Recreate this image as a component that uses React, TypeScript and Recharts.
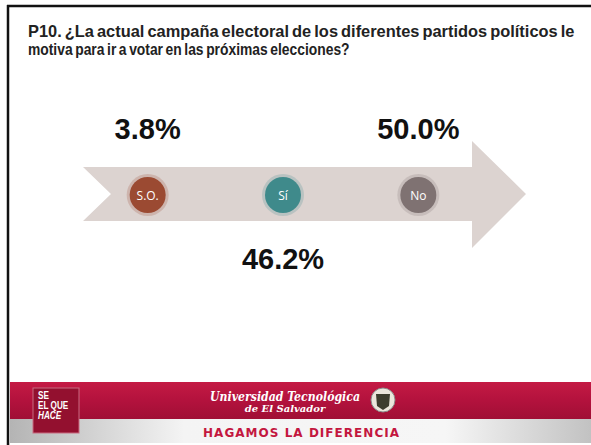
import { ScatterChart, Scatter, XAxis, YAxis, Cell } from 'recharts';

const categories = ['S.O.', 'Sí', 'No'];
const shares = [3.8, 46.2, 50.0];
const data = categories.map((name, i) => ({ name, value: shares[i] }));

const DOT_COLORS = ['#9b4a32', '#3f8a8b', '#7f7272'];
const LABEL_SIDE = ['top', 'bottom', 'top'];

const titleLines = [
  'P10. ¿La actual campaña electoral de los diferentes partidos políticos le',
  'motiva para ir a votar en las próximas  elecciones?',
];
const TITLE_SQUEEZE = [0.995, 0.84];

const W = 591;
const H = 445;

function Dot(props: any) {
  const { cx, cy, fill, payload, side } = props;
  const ty = side === 'bottom' ? cy + 74 : cy - 56;
  return (
    <g>
      <circle cx={cx} cy={cy} r={21} fill={fill} opacity={0.22} />
      <circle cx={cx} cy={cy} r={18} fill={fill} />
      <text x={cx} y={cy + 4.5} textAnchor="middle" fill="#fff"
        style={{ fontFamily: '"Open Sans", "Noto Sans", sans-serif', fontSize: 12 }}>
        {payload.name}
      </text>
      <text x={cx} y={ty} textAnchor="middle" fill="#111"
        style={{ fontFamily: '"Liberation Sans", Arial, sans-serif', fontSize: 29, fontWeight: 700 }}>
        {payload.value.toFixed(1)}%
      </text>
    </g>
  );
}

function Slide() {
  return (
    <svg width={W} height={H} style={{ position: 'absolute', left: 0, top: 0 }}>
      <defs>
        <linearGradient id="red" x1="0" y1="0" x2="0" y2="1">
          <stop offset="0" stopColor="#c41a44" />
          <stop offset="0.5" stopColor="#b3123d" />
          <stop offset="1" stopColor="#a00f35" />
        </linearGradient>
        <linearGradient id="gray" x1="0" y1="0" x2="1" y2="0">
          <stop offset="0" stopColor="#b4b4b4" />
          <stop offset="0.3" stopColor="#f4f4f4" />
          <stop offset="0.75" stopColor="#f6f6f6" />
          <stop offset="1" stopColor="#c2c2c2" />
        </linearGradient>
      </defs>
      <rect width={W} height={H} fill="#fff" />
      {/* frame */}
      <line x1={7} y1={6} x2={W} y2={6} stroke="#111" strokeWidth={2.5} />
      <line x1={8} y1={5} x2={8} y2={H} stroke="#111" strokeWidth={2.5} />
      {/* title, squeezed like a narrow face */}
      {titleLines.map((t, i) => (
        <text key={i} transform={`translate(28 ${37 + i * 18}) scale(${TITLE_SQUEEZE[i]} 1)`} x={0} y={0}
          fill="#222" style={{ fontFamily: '"Liberation Sans", Arial, sans-serif', fontSize: 16.5, fontWeight: 700, wordSpacing: -1.5 }}>
          {t}
        </text>
      ))}
      {/* arrow */}
      <polygon points="83,167 472,167 472,141 526,194 472,248 472,221 83,221 111,194" fill="#dcd3d0" />
      {/* footer */}
      <rect x={10} y={382} width={W - 10} height={37} fill="url(#red)" />
      <rect x={10} y={419} width={W - 10} height={24} fill="url(#gray)" />
      <rect x={33} y={388} width={46} height={45} fill="#93102f" stroke="#c86a80" strokeWidth={1} />
      {['SE', 'EL QUE', 'HACE'].map((t, i) => (
        <text key={t} transform={`translate(38 ${399 + i * 10}) scale(0.82 1)`} fill="#fff"
          style={{ fontFamily: '"Liberation Sans", Arial, sans-serif', fontSize: 10, fontWeight: 700, fontStyle: i === 2 ? 'italic' : 'normal' }}>
          {t}
        </text>
      ))}
      <text x={210} y={401} textLength={150} lengthAdjust="spacingAndGlyphs" fill="#fff"
        style={{ fontFamily: '"DejaVu Serif", serif', fontSize: 13, fontWeight: 700, fontStyle: 'italic' }}>
        Universidad Tecnológica
      </text>
      <text x={285} y={412} textAnchor="middle" fill="#fff"
        style={{ fontFamily: '"DejaVu Serif", serif', fontSize: 10, fontWeight: 700, fontStyle: 'italic' }}>
        de El Salvador
      </text>
      <circle cx={383} cy={400} r={12} fill="#ebe6dc" stroke="#8a8a8a" strokeWidth={1} />
      <path d="M376,394 L390,394 L389,406 L383,410 L377,406 Z" fill="#3d3d2e" />
      <text x={203} y={437} textLength={196} lengthAdjust="spacing" fill="#c3173f"
        style={{ fontFamily: '"DejaVu Sans", sans-serif', fontSize: 12, fontWeight: 700 }}>
        HAGAMOS LA DIFERENCIA
      </text>
    </svg>
  );
}

export default function App() {
  return (
    <div style={{ position: 'fixed', left: 0, top: 0, width: W, height: H, overflow: 'hidden', background: '#fff' }}>
      <Slide />
      <div style={{ position: 'absolute', left: 0, top: 0 }}>
        <ScatterChart width={W} height={H} margin={{ top: 0, right: 105, bottom: 55, left: 80 }}>
          <XAxis type="category" dataKey="name" allowDuplicatedCategory={false} hide />
          <YAxis type="number" dataKey={() => 0} domain={[-1, 1]} hide />
          <Scatter data={data} isAnimationActive={false} shape={<Dot />}>
            {data.map((d, i) => (
              <Cell key={d.name} fill={DOT_COLORS[i]} {...({ side: LABEL_SIDE[i] } as any)} />
            ))}
          </Scatter>
        </ScatterChart>
      </div>
    </div>
  );
}
